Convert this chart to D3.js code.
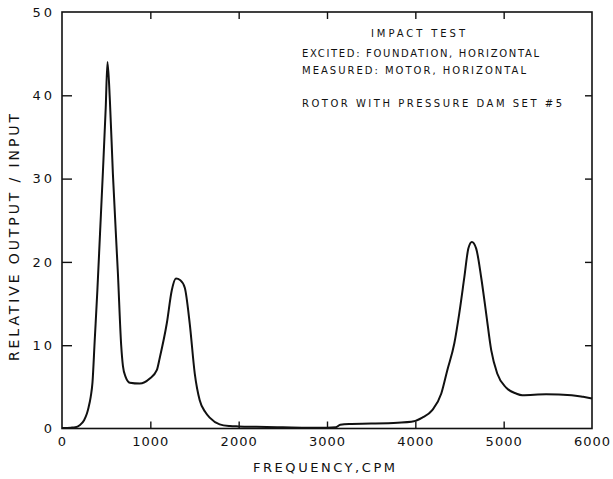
<!DOCTYPE html>
<html>
<head>
<meta charset="utf-8">
<script src="https://cdn.jsdelivr.net/npm/d3@7/dist/d3.min.js"></script>
<style>
  html, body { margin: 0; padding: 0; background: #fff; }
  svg { display: block; }
  text { font-family: "DejaVu Sans", "Noto Sans", sans-serif; fill: #111; }
</style>
</head>
<body>
<svg id="chart" width="613" height="479"></svg>
<script>
// Frequency response: relative output / input versus frequency (CPM)
const frequency = [0, 100, 150, 200, 250, 282, 300, 325, 345, 370, 400, 430, 463, 495, 515,
  542, 576, 633, 670, 690, 720, 768, 880, 994, 1073, 1107, 1186, 1243, 1290, 1340, 1390,
  1446, 1503, 1559, 1620, 1672, 1785, 1900, 2000, 2200, 2500, 2800, 3000, 3100, 3150, 3250,
  3500, 3800, 3955, 4079, 4192, 4294, 4362, 4441, 4497, 4554, 4600, 4640, 4689, 4746, 4802,
  4859, 4927, 5028, 5141, 5210, 5480, 5770, 5900, 6000];
const response = [0.05, 0.1, 0.15, 0.4, 1.0, 1.8, 2.5, 3.8, 5.5, 10.5, 16.5, 23.3, 30.8, 38.5, 44.0,
  39.4, 30.6, 18.6, 10.0, 7.5, 6.2, 5.5, 5.4, 6.0, 7.0, 8.5, 12.6, 16.6, 18.0, 17.8, 16.9,
  12.6, 6.6, 3.4, 2.0, 1.3, 0.5, 0.3, 0.25, 0.2, 0.15, 0.1, 0.1, 0.15, 0.45, 0.55,
  0.6, 0.7, 0.8, 1.3, 2.2, 4.2, 7.0, 10.2, 13.8, 18.1, 21.6, 22.4, 21.6, 18.1, 13.8,
  9.4, 6.6, 4.9, 4.2, 4.0, 4.1, 4.0, 3.8, 3.6];

const xTicks = [0, 1000, 2000, 3000, 4000, 5000, 6000];
const yTicks = [0, 10, 20, 30, 40, 50];

const notes = [
  "IMPACT TEST",
  "EXCITED: FOUNDATION, HORIZONTAL",
  "MEASURED: MOTOR, HORIZONTAL",
  "ROTOR WITH PRESSURE DAM SET #5"
];
const xTitle = "FREQUENCY,CPM";
const yTitle = "RELATIVE OUTPUT / INPUT";

const svg = d3.select("#chart");
const plotLeft = 62, plotRight = 592, plotTop = 12, plotBottom = 428.5;

const x = d3.scaleLinear().domain([0, 6000]).range([plotLeft, plotRight]);
const y = d3.scaleLinear().domain([0, 50]).range([plotBottom, plotTop]);

// Frame
svg.append("rect")
  .attr("x", plotLeft).attr("y", plotTop)
  .attr("width", plotRight - plotLeft).attr("height", plotBottom - plotTop)
  .attr("fill", "none").attr("stroke", "#111").attr("stroke-width", 1.6);

// Axes with inward ticks
const innerX = v => v !== 0 && v !== 6000;
const innerY = v => v !== 0 && v !== 50;

const gBottom = svg.append("g").attr("transform", `translate(0,${plotBottom})`)
  .call(d3.axisBottom(x).tickValues(xTicks).tickSize(-7).tickPadding(10).tickFormat(d3.format("d")));
const gTop = svg.append("g").attr("transform", `translate(0,${plotTop})`)
  .call(d3.axisTop(x).tickValues(xTicks.filter(innerX)).tickSize(-7).tickFormat(""));
const gLeft = svg.append("g").attr("transform", `translate(${plotLeft},0)`)
  .call(d3.axisLeft(y).tickValues(yTicks).tickSize(-10).tickPadding(10).tickFormat(d3.format("d")));
const gRight = svg.append("g").attr("transform", `translate(${plotRight},0)`)
  .call(d3.axisRight(y).tickValues(yTicks.filter(innerY)).tickSize(-7).tickFormat(""));

[gBottom, gTop, gLeft, gRight].forEach(g => {
  g.select(".domain").remove();
  g.selectAll(".tick line").attr("stroke", "#111").attr("stroke-width", 1.4);
  g.selectAll("text").attr("font-size", 13).attr("fill", "#111")
    .attr("font-family", "DejaVu Sans, sans-serif");
});
gBottom.selectAll(".tick line").filter(d => !innerX(d)).remove();
gLeft.selectAll(".tick line").filter(d => !innerY(d)).remove();
gBottom.selectAll("text").attr("dy", "0.55em").style("letter-spacing", "1px");
gLeft.selectAll("text").style("letter-spacing", "3px").attr("dx", "3px");

// Response curve
const line = d3.line()
  .x((d, i) => x(frequency[i]))
  .y(d => y(d))
  .curve(d3.curveMonotoneX);

svg.append("path")
  .datum(response)
  .attr("d", line)
  .attr("fill", "none")
  .attr("stroke", "#111")
  .attr("stroke-width", 2)
  .attr("stroke-linejoin", "round");

// Annotation block
const noteLayout = [
  { x: 371, y: 37, w: 94 },
  { x: 302, y: 57, w: 237 },
  { x: 302, y: 74, w: 224 },
  { x: 302, y: 107, w: 260 }
];
svg.append("g").selectAll("text").data(notes).join("text")
  .attr("x", (d, i) => noteLayout[i].x)
  .attr("y", (d, i) => noteLayout[i].y)
  .attr("textLength", (d, i) => noteLayout[i].w)
  .attr("lengthAdjust", "spacing")
  .attr("font-size", 10)
  .text(d => d);

// Axis titles
svg.append("text")
  .attr("x", 253).attr("y", 472)
  .attr("textLength", 142).attr("lengthAdjust", "spacing")
  .attr("font-size", 13)
  .text(xTitle);

svg.append("text")
  .attr("transform", "translate(19,238) rotate(-90)")
  .attr("x", -123).attr("y", 0)
  .attr("textLength", 247).attr("lengthAdjust", "spacing")
  .attr("font-size", 14)
  .text(yTitle);
</script>
</body>
</html>
